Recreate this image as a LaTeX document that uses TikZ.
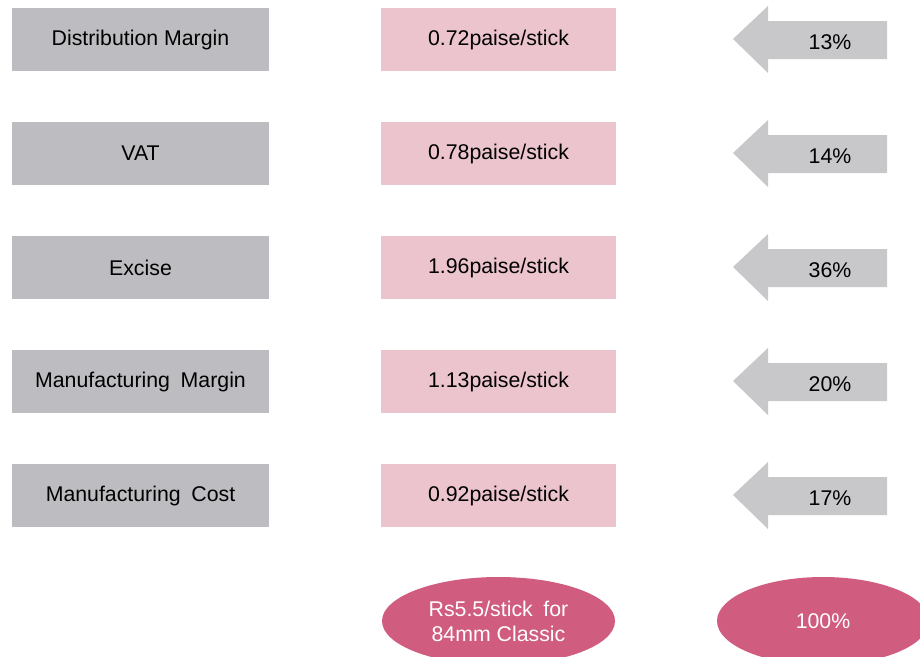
\documentclass[tikz,border=0pt]{standalone}
\usepackage{fontspec}
\setmainfont{Liberation Sans}
\definecolor{boxgray}{HTML}{BDBDC1}
\definecolor{boxpink}{HTML}{ECC4CE}
\definecolor{arrgray}{HTML}{C8C8CA}
\definecolor{ellpink}{HTML}{D05C80}
\tikzset{
  graybox/.style={fill=boxgray, draw=none, minimum width=257pt, minimum height=63pt, inner sep=0pt, font=\fontsize{21.3}{24}\selectfont},
  pinkbox/.style={fill=boxpink, draw=none, minimum width=235pt, minimum height=63pt, inner sep=0pt, font=\fontsize{21.3}{24}\selectfont},
  arrtext/.style={inner sep=0pt, font=\fontsize{21.3}{24}\selectfont},
  ellnode/.style={ellipse, fill=ellpink, draw=none, text=white, inner sep=0pt, align=center, font=\fontsize{21.3}{25}\selectfont},
}
\usetikzlibrary{shapes.geometric}
\newcommand{\wsp}{\hspace{0.5em}}
\begin{document}
\begin{tikzpicture}[x=1pt,y=-1pt]
\useasboundingbox (0,0) rectangle (920,656);
\fill[white] (0,0) rectangle (920,656);
% rows
\foreach \i/\lab/\val/\pct in {0/Distribution Margin/0.72/13,1/VAT/0.78/14,2/Excise/1.96/36,3/Manufacturing\wsp Margin/1.13/20,4/Manufacturing\wsp Cost/0.92/17}{
  \pgfmathsetmacro{\c}{40+114*\i}
  \node[graybox] (g\i) at (140.5,\c-0.5) {\lab};
  \node[pinkbox] (p\i) at (498.5,\c-0.5) {\val paise/stick};
  \fill[arrgray] (733,\c-1) -- (768,\c-34) -- (768,\c-19) -- (887,\c-19) -- (887,\c+19) -- (768,\c+19) -- (768,\c+33) -- cycle;
  \node[arrtext] (a\i) at (830,\c+2) {\pct\%};
}
\node[ellnode, minimum width=233pt, minimum height=88pt] (e1) at (498.5,621) {Rs5.5/stick\wsp for\\84mm Classic};
\node[ellnode, minimum width=212pt, minimum height=88pt] (e2) at (823,621) {100\%};
\end{tikzpicture}
\end{document}
